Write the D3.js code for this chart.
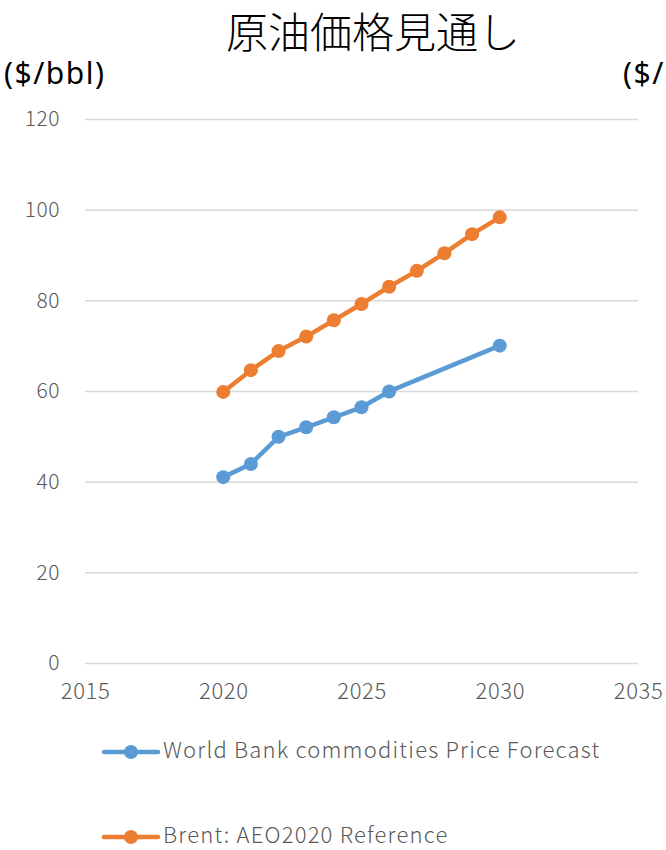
<!DOCTYPE html>
<html>
<head>
<meta charset="utf-8">
<script src="https://cdn.jsdelivr.net/npm/d3@7"></script>
<style>
  html, body { margin: 0; padding: 0; background: #fff; }
  svg { display: block; }
</style>
</head>
<body>
<div id="chart"></div>
<script>
// Oil price outlook: two forecast series in $/bbl
const worldBankYears = [2020, 2021, 2022, 2023, 2024, 2025, 2026, 2030];
const worldBankValues = [41.0, 43.9, 49.9, 52.0, 54.2, 56.4, 59.9, 70.0];
const brentYears = [2020, 2021, 2022, 2023, 2024, 2025, 2026, 2027, 2028, 2029, 2030];
const brentValues = [59.8, 64.6, 68.8, 72.0, 75.6, 79.2, 83.0, 86.5, 90.4, 94.6, 98.3];
const xTicks = [2015, 2020, 2025, 2030, 2035];
const yTicks = [0, 20, 40, 60, 80, 100, 120];
const seriesNames = ["World Bank commodities Price Forecast", "Brent: AEO2020 Reference"];
const seriesColors = ["#5B9BD5", "#ED7D31"];

const W = 666, H = 850;
const font = "'Noto Sans CJK JP', 'Noto Sans', sans-serif";
const unitFont = "'Noto Sans', 'Open Sans', sans-serif";

const svg = d3.select("#chart").append("svg")
  .attr("width", W).attr("height", H);

const x = d3.scaleLinear().domain([2015, 2035]).range([85, 638]);
const y = d3.scaleLinear().domain([0, 120]).range([663, 119]);

// Title and unit labels
svg.append("text")
  .attr("x", 373).attr("y", 48)
  .attr("text-anchor", "middle")
  .attr("font-family", font).attr("font-weight", 300)
  .attr("font-size", 42).attr("fill", "#000")
  .text("原油価格見通し");

svg.append("text")
  .attr("x", 4).attr("y", 84)
  .attr("font-family", unitFont).attr("font-weight", 400)
  .attr("font-size", 30).attr("letter-spacing", 1.5).attr("fill", "#000")
  .text("($/bbl)");

svg.append("text")
  .attr("x", 623).attr("y", 84)
  .attr("font-family", unitFont).attr("font-weight", 400)
  .attr("font-size", 30).attr("letter-spacing", 1.5).attr("fill", "#000")
  .text("($/");

// Horizontal gridlines with value axis labels
const yAxis = d3.axisLeft(y).tickValues(yTicks).tickSize(-(638 - 85)).tickPadding(25);
const gy = svg.append("g").attr("transform", "translate(85,0)").call(yAxis);
gy.select(".domain").remove();
gy.selectAll(".tick line").attr("stroke", "#d9d9d9").attr("stroke-width", 1.5);
gy.selectAll(".tick text")
  .attr("font-family", font).attr("font-weight", 300)
  .attr("font-size", 21).attr("letter-spacing", 0.5).attr("fill", "#595959");

// Year axis labels
const xAxis = d3.axisBottom(x).tickValues(xTicks).tickFormat(d3.format("d")).tickSize(0).tickPadding(20);
const gx = svg.append("g").attr("transform", "translate(0,663)").call(xAxis);
gx.select(".domain").remove();
gx.selectAll(".tick text")
  .attr("font-family", font).attr("font-weight", 300)
  .attr("font-size", 22).attr("letter-spacing", 0.6).attr("fill", "#595959");

// Series lines and markers
const series = [
  { years: worldBankYears, values: worldBankValues },
  { years: brentYears, values: brentValues }
];
const line = d3.line().x(d => x(d[0])).y(d => y(d[1]));

series.forEach((s, i) => {
  const pts = s.years.map((yr, j) => [yr, s.values[j]]);
  svg.append("path")
    .datum(pts)
    .attr("d", line)
    .attr("fill", "none")
    .attr("stroke", seriesColors[i])
    .attr("stroke-width", 4.5)
    .attr("stroke-linejoin", "round");
  svg.append("g").selectAll("circle")
    .data(pts).enter().append("circle")
    .attr("cx", d => x(d[0])).attr("cy", d => y(d[1]))
    .attr("r", 7)
    .attr("fill", seriesColors[i]);
});

// Legend
const legendY = [752, 837];
seriesNames.forEach((name, i) => {
  const g = svg.append("g").attr("transform", `translate(0,${legendY[i]})`);
  g.append("line").attr("x1", 104).attr("x2", 158).attr("y1", 0).attr("y2", 0)
    .attr("stroke", seriesColors[i]).attr("stroke-width", 4.5).attr("stroke-linecap", "round");
  g.append("circle").attr("cx", 131).attr("cy", 0).attr("r", 7).attr("fill", seriesColors[i]);
  g.append("text").attr("x", 163).attr("y", 6)
    .attr("font-family", font).attr("font-weight", 300)
    .attr("font-size", 22).attr("letter-spacing", 1.2).attr("fill", "#595959")
    .text(name);
});
</script>
</body>
</html>
